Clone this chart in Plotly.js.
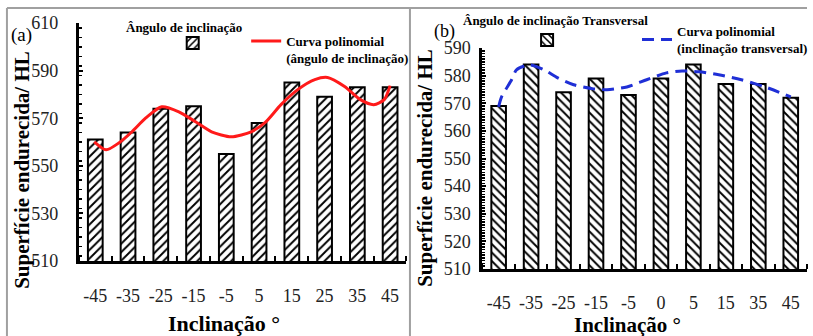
<!DOCTYPE html>
<html>
<head>
<meta charset="utf-8">
<script src="https://cdn.plot.ly/plotly-3.0.1.min.js"></script>
<style>html,body{margin:0;padding:0;background:#fff;}#chart{width:813px;height:336px;}</style>
</head>
<body>
<div id="chart"></div>
<script>
// ---- data ----
const categoriesA = ['-45','-35','-25','-15','-5','5','15','25','35','45'];
const valuesA = [561, 564, 574, 575, 555, 568, 585, 579, 583, 583];
const curveAIdx = [-0.03, 0.33, 0.73, 1.12, 1.55, 2.03, 2.55, 3.06, 3.55, 4.15, 4.76, 5.18, 5.67, 6.18, 6.70, 7.09, 7.61, 8.09, 8.50, 8.82, 9.0];
const curveAVal = [560.1, 556.7, 559.7, 564.3, 570.2, 574.8, 572.7, 568.5, 564.3, 562.2, 564.3, 568.1, 575.7, 582.0, 586.2, 587.1, 583.3, 577.8, 575.7, 577.8, 583.7];

const categoriesB = ['-45','-35','-25','-15','-5','0','5','15','35','45'];
const valuesB = [569, 584, 574, 579, 573, 579, 584, 577, 577, 572];
const curveBIdx = [0, 0.09, 0.40, 0.55, 0.94, 1.40, 1.82, 2.31, 2.92, 3.34, 3.95, 4.56, 5.17, 5.65, 6.17, 6.78, 7.48, 8.21, 9.0];
const curveBVal = [568.7, 572.3, 578.5, 582.1, 583.9, 582.1, 579.2, 576.7, 575.2, 574.9, 575.9, 578.5, 581.0, 581.7, 581.4, 580.3, 578.5, 575.9, 572.3];

const yTicksA = [510, 530, 550, 570, 590, 610];
const yTicksB = [510, 520, 530, 540, 550, 560, 570, 580, 590];

// ---- helpers ----
const W = 813, H = 336;
const px = x => x / W;
const py = y => 1 - y / H;
const serif = 'Liberation Serif';
const idxA = categoriesA.map((_, i) => i);
const idxB = categoriesB.map((_, i) => i);

const traces = [
  {type: 'bar', x: idxA, y: valuesA, xaxis: 'x', yaxis: 'y', width: 0.45, name: '',
   legend: 'legend', showlegend: true,
   marker: {color: 'white', line: {color: 'black', width: 2},
            pattern: {shape: '/', fgcolor: 'black', bgcolor: 'white', size: 6, solidity: 0.32}}},
  {type: 'scatter', mode: 'lines', x: curveAIdx, y: curveAVal, xaxis: 'x', yaxis: 'y',
   name: 'Curva polinomial<br>(ângulo de inclinação)', legend: 'legend2',
   line: {color: '#ff1a1a', width: 3, shape: 'spline', smoothing: 0.7}},
  {type: 'bar', x: idxB, y: valuesB, xaxis: 'x2', yaxis: 'y2', width: 0.45, name: '',
   legend: 'legend3', showlegend: true,
   marker: {color: 'white', line: {color: 'black', width: 2},
            pattern: {shape: '\\', fgcolor: 'black', bgcolor: 'white', size: 6, solidity: 0.32}}},
  {type: 'scatter', mode: 'lines', x: curveBIdx, y: curveBVal, xaxis: 'x2', yaxis: 'y2',
   name: 'Curva polinomial<br>(inclinação transversal)', legend: 'legend4',
   line: {color: '#1f2fd6', width: 3, dash: '12px,7px', shape: 'spline', smoothing: 0.7}}
];

const tickFont = {family: serif, size: 18, color: '#222'};
function xAxis(cats, dom, anchor, standoff) {
  return {domain: dom, anchor: anchor, range: [-0.5, 9.5], tickmode: 'array',
    tickvals: cats.map((_, i) => i), ticktext: cats, ticks: '', showgrid: false, zeroline: false,
    showline: true, linecolor: 'black', linewidth: 3, tickfont: tickFont, ticklabelstandoff: standoff,
    minor: {tick0: -0.5, dtick: 1, ticks: 'inside', ticklen: 5, tickwidth: 2, tickcolor: 'black', showgrid: false},
    fixedrange: true};
}
function yAxis(ticks, dom, anchor, minorStep, standoff) {
  return {domain: dom, anchor: anchor, range: [ticks[0], ticks[ticks.length - 1]], tickmode: 'array',
    tickvals: ticks, ticks: 'inside', ticklen: 4, tickwidth: 2, tickcolor: 'black',
    showgrid: false, zeroline: false, showline: true, linecolor: 'black', linewidth: 3,
    tickfont: tickFont, ticklabelstandoff: standoff,
    minor: {dtick: minorStep, ticks: 'inside', ticklen: 3, tickwidth: 1.5, tickcolor: 'black', showgrid: false},
    fixedrange: true};
}

const legendText = {family: serif, size: 13, color: 'black', weight: 'bold'};
const legBase = {bgcolor: 'rgba(0,0,0,0)', borderwidth: 0, font: legendText, xanchor: 'left', yanchor: 'top', tracegroupgap: 0};

const ann = (text, x, y, size, opts) => Object.assign({text: text, xref: 'paper', yref: 'paper', x: px(x), y: py(y),
  xanchor: 'center', yanchor: 'middle', showarrow: false, font: {family: serif, size: size, color: 'black'}}, opts || {});

const layout = {
  width: W, height: H, margin: {l: 0, r: 0, t: 0, b: 0}, paper_bgcolor: 'white', plot_bgcolor: 'rgba(0,0,0,0)',
  showlegend: true, font: {family: serif},
  xaxis: xAxis(categoriesA, [px(79.5), px(409.5)], 'y', 16),
  yaxis: yAxis(yTicksA, [1 - 261 / H, 1 - 23 / H], 'x', 4, 14),
  xaxis2: xAxis(categoriesB, [px(486), 1], 'y2', 15),
  yaxis2: yAxis(yTicksB, [1 - 269 / H, 1 - 48 / H], 'x2', 1, 5),
  legend: Object.assign({}, legBase, {x: px(174), y: py(28), itemwidth: 30}),
  legend2: Object.assign({}, legBase, {x: px(248), y: py(26), itemwidth: 30, valign: 'top'}),
  legend3: Object.assign({}, legBase, {x: px(531), y: py(25), itemwidth: 30}),
  legend4: Object.assign({}, legBase, {x: px(642), y: py(16), itemwidth: 30, valign: 'middle'}),
  annotations: [
    ann('<b>Superfície endurecida/ HL</b>', 22, 170, 21, {textangle: -90}),
    ann('<b>Superfície endurecida/ HL</b>', 428, 168, 21, {textangle: -90}),
    ann('<b>Inclinação °</b>', 226, 323, 22),
    ann('<b>Inclinação °</b>', 632, 325, 21),
    ann('(a)', 22, 35, 19),
    ann('(b)', 448, 31, 18),
    ann('<b>Ângulo de inclinação</b>', 185, 27, 13),
    ann('<b>Ângulo de inclinação Transversal</b>', 560, 20, 13)
  ],
  shapes: [
    {type: 'line', xref: 'paper', yref: 'paper', x0: px(7), x1: 1, y0: py(8), y1: py(8), line: {color: '#a0a0a0', width: 2}},
    {type: 'line', xref: 'paper', yref: 'paper', x0: px(7), x1: px(7), y0: py(8), y1: 0, line: {color: '#a0a0a0', width: 2}},
    {type: 'line', xref: 'paper', yref: 'paper', x0: px(413), x1: px(413), y0: py(8), y1: 0, line: {color: '#a0a0a0', width: 2}}
  ]
};

Plotly.newPlot('chart', traces, layout, {displayModeBar: false, staticPlot: true});
</script>
</body>
</html>
